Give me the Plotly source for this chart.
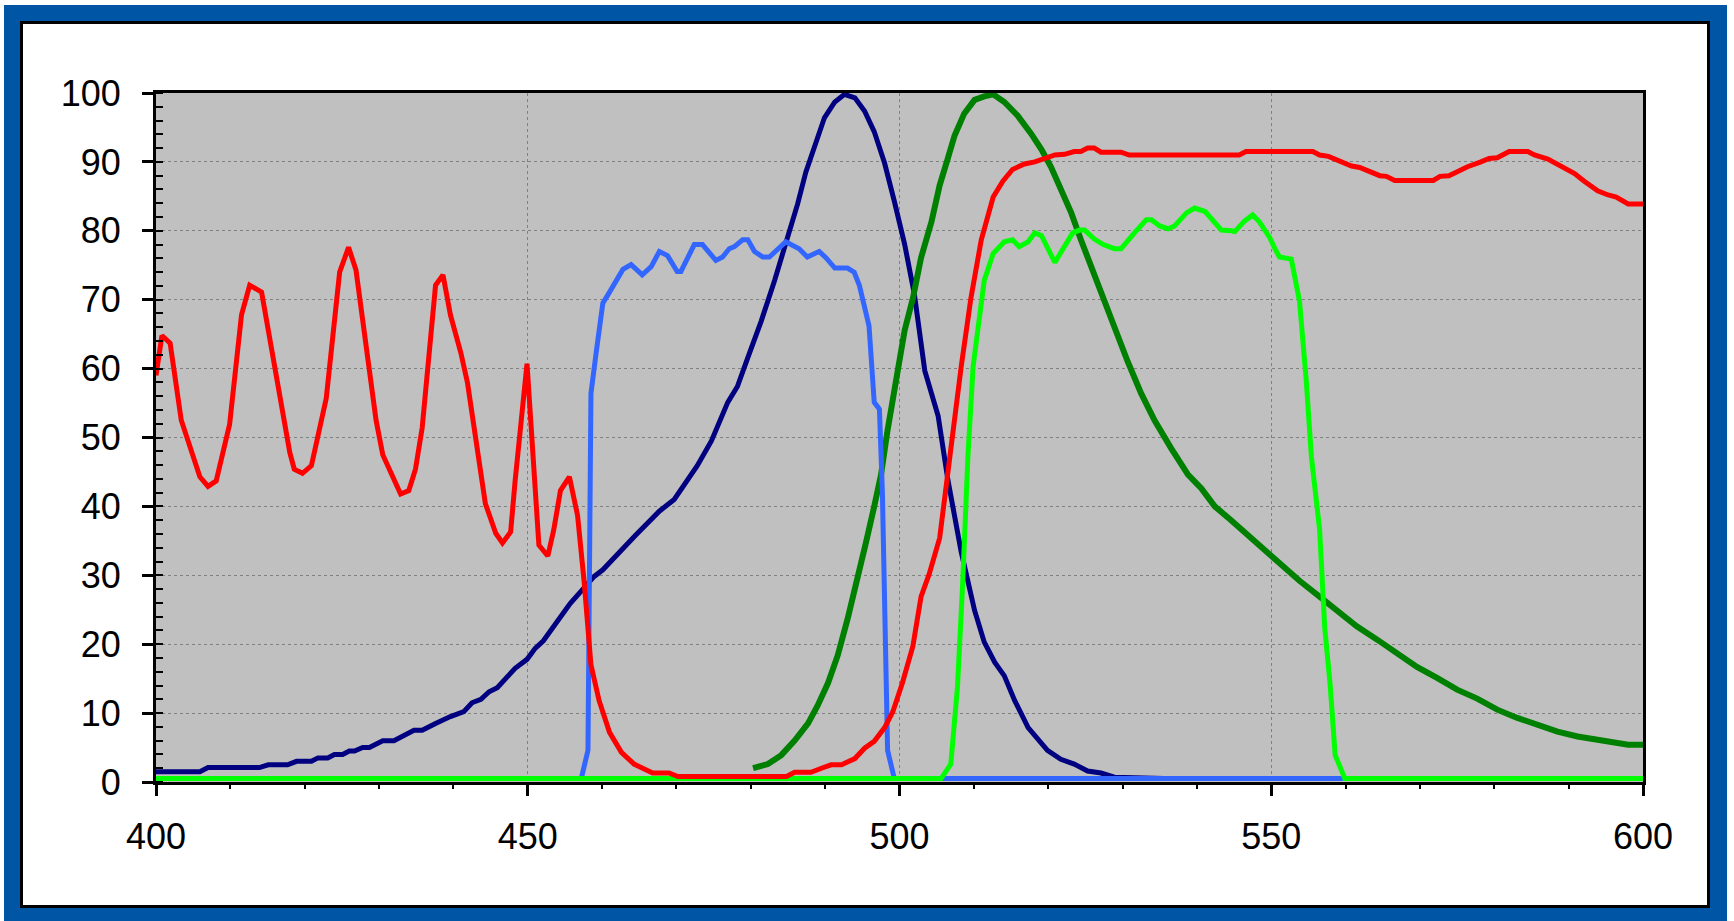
import plotly.graph_objects as go

# ---------------- data (wavelength nm, relative %) ----------------
navy_x = [400, 405.9, 407.0, 413.9, 415.1, 417.7, 418.9, 420.9, 421.8, 423.1, 424.0, 425.1, 426.0, 426.7,
          427.8, 428.7, 430.5, 432.0, 434.7, 435.8, 437.6, 439.6, 441.4, 442.5, 443.7, 444.8, 445.9, 447.0,
          448.3, 449.9, 451.0, 452.1, 453.5, 455.7, 457.6, 458.9, 460.1, 461.2, 464.5, 467.7, 469.7, 472.8,
          474.7, 476.9, 478.2, 479.6, 481.4, 483.2, 485.0, 486.3, 487.4, 488.6, 489.9, 491.3, 492.6, 494.0,
          495.3, 496.6, 498.0, 499.3, 500.7, 502.0, 503.4, 505.2, 506.5, 508.3, 510.1, 511.4, 512.8, 514.1,
          515.5, 517.3, 518.6, 519.9, 521.7, 523.5, 525.3, 527.1, 528.9, 534.3, 535.6, 600]
navy_y = [1.5, 1.5, 2.1, 2.1, 2.5, 2.5, 3.0, 3.0, 3.5, 3.5, 4.0, 4.0, 4.5, 4.5,
          5.0, 5.0, 6.0, 6.0, 7.5, 7.5, 8.5, 9.5, 10.2, 11.5, 12.0, 13.1, 13.7, 15.0,
          16.5, 17.8, 19.4, 20.5, 22.5, 25.9, 28.2, 29.8, 30.8, 32.1, 35.8, 39.3, 41.0, 45.9,
          49.5, 55.1, 57.4, 61.6, 66.9, 72.8, 79.0, 83.9, 88.5, 92.1, 96.4, 98.7, 99.8, 99.3,
          97.4, 94.4, 89.8, 84.3, 78.0, 70.8, 59.7, 53.1, 43.9, 33.4, 24.9, 20.3, 17.4, 15.4,
          11.8, 7.9, 6.2, 4.6, 3.3, 2.6, 1.6, 1.3, 0.7, 0.5, 0.5, 0.5]

dgreen_x = [480.3, 482.3, 484.1, 485.9, 487.7, 489.0, 490.4, 491.7, 493.0, 494.4, 495.5, 496.6, 497.5, 498.4,
            499.6, 500.7, 501.8, 502.9, 504.3, 505.4, 506.5, 507.4, 508.7, 510.1, 511.4, 512.6, 514.1, 515.9,
            517.7, 519.1, 520.4, 521.8, 523.1, 524.4, 525.8, 527.1, 528.9, 530.7, 532.5, 534.3, 536.5, 538.8,
            540.6, 542.4, 544.6, 546.8, 549.8, 551.6, 553.8, 556.5, 558.8, 561.5, 564.2, 566.9, 569.6, 572.3,
            575.0, 577.7, 580.4, 583.1, 585.8, 588.5, 591.2, 593.9, 595.7, 598.0, 600]
dgreen_y = [2.0, 2.6, 3.9, 6.0, 8.5, 11.1, 14.4, 18.4, 23.6, 29.5, 34.8, 40.0, 44.5, 51.1,
            59.0, 65.6, 70.2, 76.1, 81.3, 86.6, 90.5, 93.8, 97.0, 99.0, 99.5, 99.8, 98.7, 96.7,
            94.1, 91.8, 89.2, 85.9, 82.6, 78.7, 74.8, 70.8, 66.2, 61.0, 56.4, 52.5, 48.5, 44.6,
            42.6, 40.0, 38.0, 35.9, 32.8, 31.1, 29.2, 26.9, 24.9, 22.6, 20.7, 18.7, 16.7, 15.1,
            13.4, 12.1, 10.5, 9.3, 8.3, 7.3, 6.6, 6.1, 5.8, 5.4, 5.4]

lblue_x = [400, 457.2, 458.1, 458.5, 459.2, 460.1, 461.0, 462.8, 463.9, 465.4, 466.6, 467.7, 468.8, 470.1,
           470.6, 472.4, 473.5, 475.3, 476.2, 477.1, 477.8, 478.9, 479.6, 480.5, 481.6, 482.5, 484.7, 485.4,
           486.5, 487.6, 489.2, 490.1, 491.3, 493.0, 493.9, 494.6, 495.9, 496.6, 497.3, 497.7, 498.2, 498.4,
           499.3, 600]
lblue_y = [0.5, 0.5, 4.6, 56.4, 62.3, 69.5, 71.1, 74.4, 75.1, 73.6, 74.8, 77.0, 76.4, 74.1,
           74.1, 78.0, 78.0, 75.7, 76.2, 77.4, 77.7, 78.7, 78.7, 77.0, 76.2, 76.2, 78.4, 78.0,
           77.4, 76.2, 77.0, 76.1, 74.6, 74.6, 74.0, 72.1, 66.2, 55.1, 54.1, 42.0, 15.7, 4.6,
           0.5, 0.5]

bgreen_x = [400, 505.6, 506.9, 507.8, 508.5, 509.2, 509.9, 510.8, 511.4, 512.6, 514.1, 515.2, 516.1, 517.3,
            518.2, 519.1, 520.0, 520.9, 522.0, 523.3, 524.2, 524.9, 526.2, 527.4, 528.9, 529.8, 531.6, 533.2,
            533.9, 535.0, 536.1, 537.0, 538.6, 539.7, 541.1, 542.4, 543.3, 544.6, 545.1, 546.4, 547.5, 548.4,
            549.8, 550.5, 551.1, 552.7, 553.2, 553.8, 554.7, 555.4, 556.5, 557.2, 557.9, 558.6, 559.9, 600]
bgreen_y = [0.5, 0.5, 2.6, 13.8, 28.9, 47.2, 60.3, 68.2, 72.8, 76.7, 78.4, 78.7, 77.7, 78.4,
            79.7, 79.3, 77.4, 75.4, 77.4, 79.7, 80.1, 80.1, 78.8, 78.0, 77.4, 77.4, 79.7, 81.6,
            81.6, 80.7, 80.3, 80.7, 82.6, 83.3, 82.8, 81.3, 80.1, 80.0, 79.9, 81.4, 82.3, 81.3,
            79.0, 77.4, 76.2, 75.9, 73.4, 69.8, 58.4, 47.2, 36.7, 22.3, 14.4, 3.9, 0.5, 0.5]

red_x = [400, 400.8, 401.9, 403.4, 405.9, 407.0, 408.1, 408.8, 409.9, 411.5, 412.6, 414.2, 417.1, 418.0,
         418.6, 419.7, 420.9, 422.9, 424.7, 425.9, 426.9, 428.3, 429.6, 430.5, 432.9, 434.0, 434.9, 435.8,
         437.6, 438.6, 439.6, 441.0, 441.9, 444.3, 445.7, 446.6, 447.7, 448.3, 449.9, 451.5, 452.7, 453.5,
         454.4, 455.6, 456.7, 457.6, 458.5, 459.6, 461.0, 462.6, 464.3, 466.8, 469.0, 470.2, 484.8, 485.9,
         488.1, 489.5, 490.8, 492.2, 494.0, 495.3, 496.6, 498.0, 499.1, 500.4, 501.8, 502.9, 504.0, 505.4,
         506.3, 507.2, 508.3, 509.6, 511.0, 512.6, 513.9, 515.2, 516.8, 518.2, 519.5, 520.9, 522.2, 523.5,
         524.4, 525.3, 526.2, 527.1, 529.8, 530.9, 545.7, 546.6, 555.6, 556.5, 557.7, 559.2, 560.8, 561.9,
         564.6, 565.5, 566.6, 571.8, 572.7, 573.9, 576.4, 578.2, 579.3, 580.4, 582.0, 584.5, 585.4, 587.2,
         589.0, 590.8, 592.1, 593.9, 595.3, 596.4, 598.0, 600]
red_y = [59.0, 64.8, 63.7, 52.5, 44.3, 42.9, 43.7, 46.7, 51.9, 67.8, 72.1, 71.1, 52.5, 47.8,
         45.4, 44.8, 45.9, 55.7, 74.0, 77.6, 74.3, 62.3, 52.5, 47.5, 41.8, 42.3, 45.4, 51.4,
         72.1, 73.6, 67.8, 62.3, 57.9, 40.4, 36.1, 34.7, 36.3, 43.7, 60.7, 34.4, 32.8, 36.6,
         42.3, 44.3, 38.7, 28.9, 17.0, 11.8, 7.2, 4.3, 2.6, 1.3, 1.3, 0.8, 0.8, 1.4,
         1.4, 2.0, 2.5, 2.5, 3.4, 4.9, 5.9, 7.9, 10.2, 14.4, 19.7, 26.9, 30.2, 35.4,
         43.3, 51.1, 60.3, 70.2, 78.7, 84.9, 87.2, 88.9, 89.7, 90.0, 90.5, 91.0, 91.1, 91.5,
         91.5, 92.0, 92.0, 91.4, 91.4, 91.0, 91.0, 91.5, 91.5, 91.0, 90.8, 90.2, 89.4, 89.2,
         88.0, 87.9, 87.3, 87.3, 87.9, 88.0, 89.3, 90.0, 90.5, 90.6, 91.5, 91.5, 91.0, 90.4,
         89.4, 88.3, 87.2, 85.8, 85.2, 84.9, 83.9, 83.9]

x_ticks = [400, 450, 500, 550, 600]
y_ticks = [0, 10, 20, 30, 40, 50, 60, 70, 80, 90, 100]

# ---------------- figure geometry (pixels) ----------------
W, H = 1734, 921
L, R, T, B = 156, 1643, 93, 782   # plot area edges


def px(xp):
    return (xp - L) / (R - L)


def py(yp):
    return (B - yp) / (B - T)


series = [
    (navy_x, navy_y, "#000080", 5),
    (dgreen_x, dgreen_y, "#008000", 6),
    (lblue_x, lblue_y, "#3366FF", 5),
    (bgreen_x, bgreen_y, "#00FF00", 5),
    (red_x, red_y, "#FF0000", 5),
]

fig = go.Figure()
for xs, ys, col, w in series:
    fig.add_trace(go.Scatter(x=xs, y=ys, mode="lines", line=dict(color=col, width=w),
                             showlegend=False, hoverinfo="skip"))

font = dict(family="Liberation Sans, Arial, sans-serif", size=36, color="black")

fig.update_layout(
    width=W, height=H,
    margin=dict(l=L, r=W - R, t=T, b=H - B, pad=0),
    paper_bgcolor="white",
    plot_bgcolor="#C0C0C0",
    showlegend=False,
    font=font,
    xaxis=dict(range=[400, 600], tickvals=x_ticks, ticktext=[str(v) for v in x_ticks],
               showline=True, linecolor="black", linewidth=3, mirror=True,
               ticks="outside", ticklen=11, tickwidth=3, tickcolor="black",
               showgrid=True, gridcolor="#808080", gridwidth=1, griddash="3px,3px",
               zeroline=False, tickfont=font, ticklabelstandoff=10,
               minor=dict(dtick=10, ticks="outside", ticklen=4, tickwidth=2,
                          tickcolor="black", showgrid=False)),
    yaxis=dict(range=[0, 100], tickvals=y_ticks, ticktext=[str(v) for v in y_ticks],
               showline=True, linecolor="black", linewidth=3, mirror=True,
               ticks="outside", ticklen=11, tickwidth=3, tickcolor="black",
               showgrid=True, gridcolor="#808080", gridwidth=1, griddash="3px,3px",
               zeroline=False, tickfont=font, ticklabelstandoff=14,
               minor=dict(dtick=2, ticks="inside", ticklen=7, tickwidth=2,
                          tickcolor="black", showgrid=False)),
)

BLUE = "#0055A5"
frame = [
    (4, 5, 1727, 21),      # top
    (4, 907, 1727, 925),   # bottom
    (4, 5, 20, 925),       # left
    (1710, 5, 1727, 925),  # right
]
for x0, y0, x1, y1 in frame:
    fig.add_shape(type="rect", xref="paper", yref="paper",
                  x0=px(x0), x1=px(x1), y0=py(y0), y1=py(y1),
                  fillcolor=BLUE, line=dict(width=0), layer="above")
fig.add_shape(type="rect", xref="paper", yref="paper",
              x0=px(21.5), x1=px(1708.5), y0=py(22.5), y1=py(906.5),
              fillcolor="rgba(0,0,0,0)", line=dict(color="black", width=3), layer="above")

fig.write_html("out.html", config={"displayModeBar": False},
               post_script="document.body.style.margin='0';document.body.style.overflow='hidden';")
